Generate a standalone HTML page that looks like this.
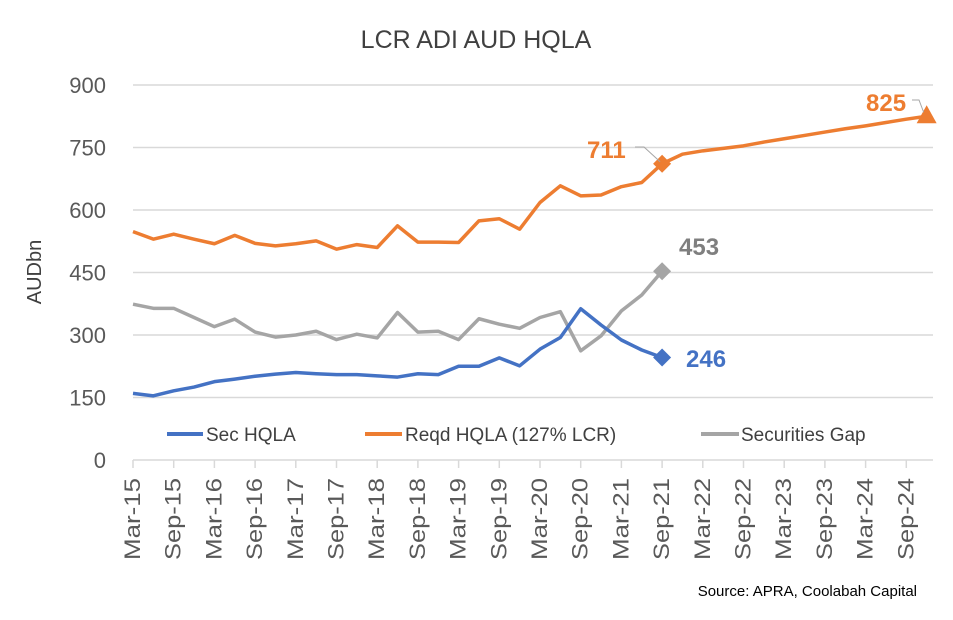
<!DOCTYPE html>
<html><head><meta charset="utf-8"><style>
html,body{margin:0;padding:0;background:#fff}
svg text{font-family:"Liberation Sans",sans-serif}
</style></head><body>
<svg id="chart" width="953" height="615" viewBox="0 0 953 615" xmlns="http://www.w3.org/2000/svg">
<text x="476" y="48" text-anchor="middle" font-size="25" fill="#404040">LCR ADI AUD HQLA</text>
<text transform="translate(41,272) rotate(-90)" text-anchor="middle" font-size="20" fill="#404040">AUDbn</text>
<g id="grid"></g><g id="xaxis"></g><g id="series"></g>
<g font-size="19" fill="#404040">
<line x1="167" y1="434" x2="203" y2="434" stroke="#4472C4" stroke-width="4"/>
<text x="206" y="441">Sec HQLA</text>
<line x1="365" y1="434" x2="402" y2="434" stroke="#ED7D31" stroke-width="4"/>
<text x="405" y="441">Reqd HQLA (127% LCR)</text>
<line x1="701" y1="434" x2="739" y2="434" stroke="#A5A5A5" stroke-width="4"/>
<text x="741" y="441">Securities Gap</text>
</g>
<text x="917" y="596" text-anchor="end" font-size="15" fill="#000">Source: APRA, Coolabah Capital</text>
</svg>
<script>
const yTicks=[0,150,300,450,600,750,900];
const xLabels=["Mar-15","Sep-15","Mar-16","Sep-16","Mar-17","Sep-17","Mar-18","Sep-18","Mar-19","Sep-19","Mar-20","Sep-20","Mar-21","Sep-21","Mar-22","Sep-22","Mar-23","Sep-23","Mar-24","Sep-24"];
const secHQLA=[160,154,166,175,188,194,201,206,210,207,205,205,202,199,207,205,225,225,245,226,266,294,363,324,288,264,246];
const reqdHQLA=[548,530,542,530,519,539,520,514,519,526,506,517,510,562,523,523,522,574,579,554,618,658,634,636,656,666,711,734,742,748,754,763,771,779,787,795,802,810,818,825];
const secGap=[374,364,364,342,320,338,307,295,300,309,289,302,293,354,307,309,289,339,326,316,342,356,262,298,358,396,453];
const NS="http://www.w3.org/2000/svg";
const x0=133,dx=20.35,y0=460,yMax=900,plotH=375,xEnd=933;
const X=i=>x0+i*dx;
const Y=v=>y0-v/yMax*plotH;
function mk(tag,attrs,parent){const e=document.createElementNS(NS,tag);for(const k in attrs)e.setAttribute(k,attrs[k]);parent.appendChild(e);return e;}
const grid=document.getElementById('grid'),xa=document.getElementById('xaxis'),sg=document.getElementById('series');
yTicks.forEach(v=>{
  if(v>0){const l=mk('line',{x1:x0,x2:xEnd,y1:Y(v),y2:Y(v),stroke:'#d9d9d9','stroke-width':1.5},grid);
  
  }
  const t=mk('text',{x:106,y:Y(v)+8,'text-anchor':'end','font-size':22,fill:'#595959'},grid);
  t.textContent=v;
  
  
});
const ax=mk('line',{x1:x0,x2:xEnd,y1:y0,y2:y0,stroke:'#d9d9d9','stroke-width':1.5},xa);


for(let k=0;k<=20;k++){const tx=x0+k*2*dx;if(tx>xEnd+1)break;
  const tk=mk('line',{x1:tx,x2:tx,y1:y0,y2:y0+8,stroke:'#d9d9d9','stroke-width':1.5},xa);
  
  }
xLabels.forEach((s,k)=>{const tx=x0+k*2*dx;
  const t=mk('text',{transform:`translate(${tx+7},478) rotate(-90)`,'text-anchor':'end','font-size':22,fill:'#595959',textLength:82,lengthAdjust:'spacingAndGlyphs'},xa);
  t.textContent=s;
  
  });
function line(arr,color,name){const p=mk('polyline',{points:arr.map((v,i)=>X(i)+','+Y(v)).join(' '),fill:'none',stroke:color,'stroke-width':3.5,'stroke-linejoin':'round'},sg);
  
  }
line(secGap,'#A5A5A5','securities-gap-line');
line(reqdHQLA,'#ED7D31','reqd-hqla-line');
line(secHQLA,'#4472C4','sec-hqla-line');
function diamond(i,v,color,name){const cx=X(i),cy=Y(v),r=9;
  const d=mk('polygon',{points:`${cx},${cy-r} ${cx+r},${cy} ${cx},${cy+r} ${cx-r},${cy}`,fill:color},sg);
  
  }
const li=secHQLA.length-1;
diamond(li,reqdHQLA[li],'#ED7D31','reqd-marker-sep21');
diamond(li,secGap[li],'#A5A5A5','gap-marker-sep21');
diamond(li,secHQLA[li],'#4472C4','sec-marker-sep21');
const le=reqdHQLA.length-1,tx=X(le),ty=Y(reqdHQLA[le]);
const tri=mk('polygon',{points:`${tx},${ty-11} ${tx+10},${ty+7} ${tx-10},${ty+7}`,fill:'#ED7D31'},sg);


function lbl(x,y,s,color,name){const t=mk('text',{x:x,y:y,'font-size':24,'font-weight':'bold',fill:color},sg);t.textContent=s;
  
  }
lbl(866,111,reqdHQLA[le],'#ED7D31','label-825');
mk('polyline',{points:`${912},${100} ${919},${100} ${tx-3},${ty-4}`,fill:'none',stroke:'#a6a6a6','stroke-width':1},sg);
lbl(587,158,reqdHQLA[li],'#ED7D31','label-711');
mk('polyline',{points:`635,147 644,147 ${X(li)-2},${Y(reqdHQLA[li])-2}`,fill:'none',stroke:'#a6a6a6','stroke-width':1},sg);
lbl(679,255,secGap[li],'#7f7f7f','label-453');
lbl(686,367,secHQLA[li],'#4472C4','label-246');
</script>
</body></html>
